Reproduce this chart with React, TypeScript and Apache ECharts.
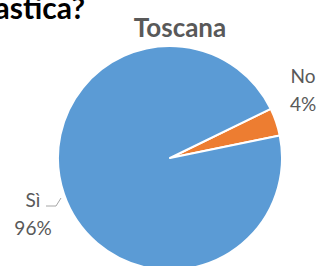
import React, { useEffect, useRef } from "react";
import * as echarts from "echarts";

const categories = ["No", "Sì"];
const values = [4, 96];
const colors = ["#ED7D31", "#5B9BD5"];
const chartTitle = "Toscana";
const cutTitle = "astica?";

export default function App() {
  const ref = useRef<HTMLDivElement>(null);
  useEffect(() => {
    document.body.style.margin = "0";
    const chart = echarts.init(ref.current!, undefined, { renderer: "svg" });
    chart.setOption({
      animation: false,
      backgroundColor: "#ffffff",
      title: {
        text: chartTitle,
        left: 175,
        top: 9,
        textAlign: "center",
        textStyle: { fontFamily: "Lato", fontWeight: "bold", fontSize: 26, color: "#595959" },
      },
      graphic: [
        {
          type: "text",
          x: 85,
          y: 22,
          style: {
            text: cutTitle,
            align: "right",
            verticalAlign: "bottom",
            fontFamily: "Lato",
            fontWeight: "bold",
            fontSize: 30,
            fill: "#000000",
          },
        },
      ],
      series: [
        {
          type: "pie",
          center: [170, 158],
          radius: 112,
          startAngle: 26,
          clockwise: true,
          data: categories.map((c, i) => ({
            name: c,
            value: values[i],
            itemStyle: { color: colors[i] },
            labelLine: { show: i === 1 },
          })),
          itemStyle: { borderColor: "#ffffff", borderWidth: 2 },
          label: {
            show: true,
            position: "outside",
            formatter: "{b}\n{d}%",
            fontFamily: "Lato",
            fontSize: 19,
            lineHeight: 28,
            color: "#595959",
            align: "center",
            overflow: "none",
          },
          labelLine: { show: true, lineStyle: { color: "#A6A6A6", width: 1 } },
          labelLayout: (p: any) =>
            p.dataIndex === 0
              ? { x: 303, y: 89, align: "center", verticalAlign: "middle" }
              : {
                  x: 33,
                  y: 213,
                  align: "center",
                  verticalAlign: "middle",
                  labelLinePoints: [
                    [61, 198],
                    [56, 206],
                    [46, 206],
                  ],
                },
        },
      ],
    });
    return () => chart.dispose();
  }, []);
  return <div ref={ref} style={{ width: 320, height: 266 }} />;
}
